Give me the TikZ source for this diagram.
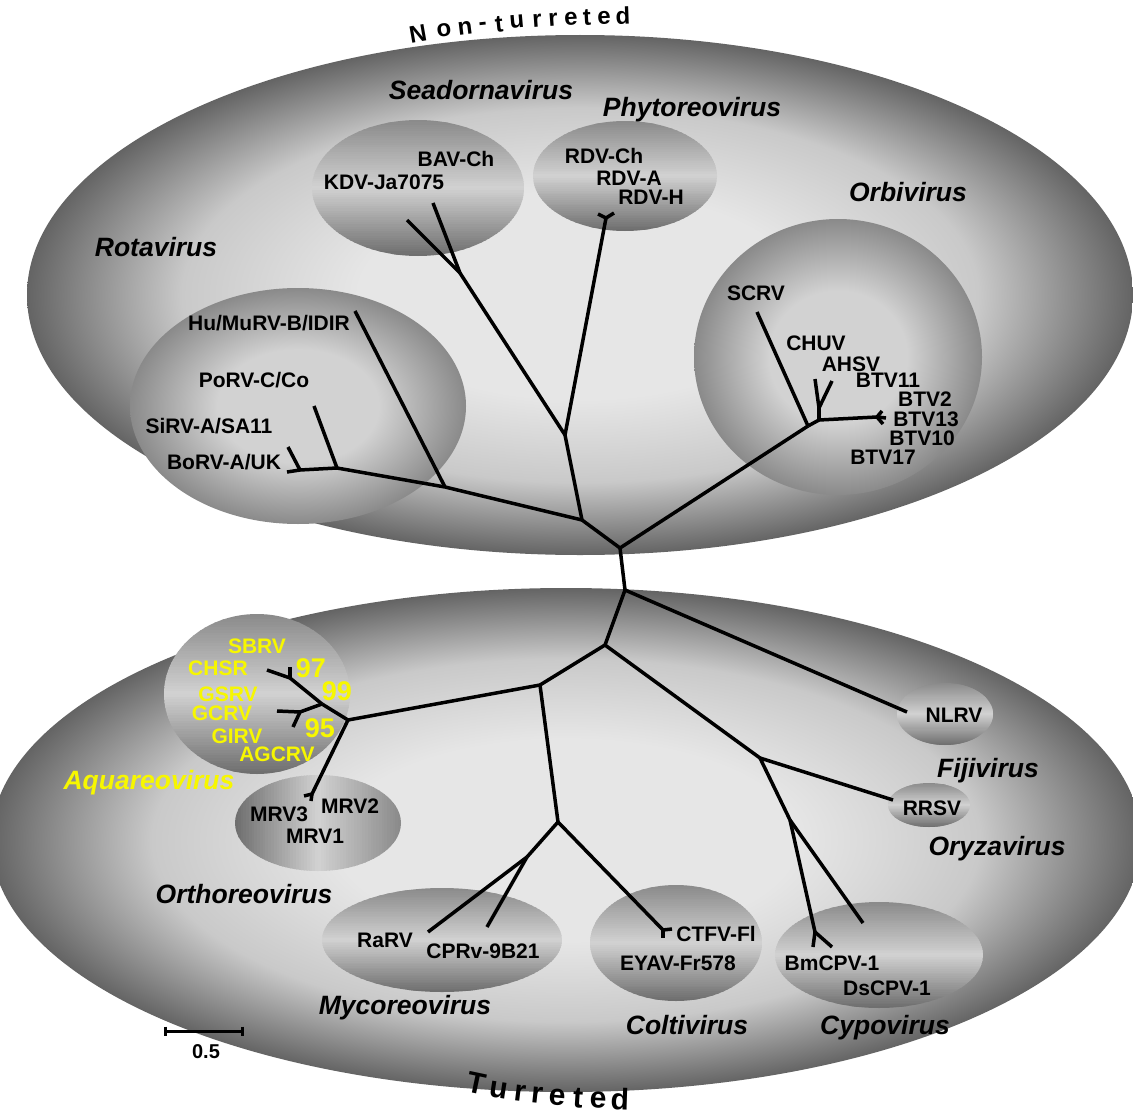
\documentclass[tikz,border=0pt]{standalone}
\usepackage{fontspec}
\setmainfont{Liberation Sans}
\definecolor{aqy}{HTML}{F7F700}
\definecolor{bgc}{HTML}{E6E6E6}
\definecolor{bgm}{HTML}{C9C9C9}
\definecolor{bge}{HTML}{646464}
\definecolor{sa}{HTML}{8A8A8A}
\definecolor{sb}{HTML}{D2D2D2}
\definecolor{sc}{HTML}{6E6E6E}
\pgfdeclareradialshading{bigsh}{\pgfpoint{0bp}{0bp}}{color(0bp)=(bgc); color(10bp)=(bgc); color(18bp)=(bgm); color(25bp)=(bge); color(50bp)=(bge)}
\pgfdeclareradialshading{midsh}{\pgfpoint{0bp}{0bp}}{color(0bp)=(sb); color(12bp)=(sb); color(25bp)=(sa); color(50bp)=(sa)}
% ellipse with a horizontal light band (vertical gradient)
\newcommand\bandell[4]{%
  \begin{scope}
    \clip (#1,#2) ellipse [x radius=#3pt, y radius=#4pt];
    \foreach \k in {0,...,59}{%
      \pgfmathsetmacro\ya{#2-#4+2*#4*\k/60}%
      \pgfmathsetmacro\yb{#2-#4+2*#4*(\k+1)/60+0.8}%
      \pgfmathtruncatemacro\pp{\k<30 ? (\k+0.5)/30*100 : (60-\k-0.5)/30*100}%
      \ifnum\k<30 \def\cc{sb!\pp!sa}\else\def\cc{sb!\pp!sc}\fi
      \fill[fill=\cc] (#1-#3-1,\ya) rectangle (#1+#3+1,\yb);
    }
  \end{scope}}
% ellipse with a vertical light band (horizontal gradient)
\newcommand\bandellh[4]{%
  \begin{scope}
    \clip (#1,#2) ellipse [x radius=#3pt, y radius=#4pt];
    \foreach \k in {0,...,59}{%
      \pgfmathsetmacro\xa{#1-#3+2*#3*\k/60}%
      \pgfmathsetmacro\xb{#1-#3+2*#3*(\k+1)/60+0.8}%
      \pgfmathtruncatemacro\pp{\k<30 ? (\k+0.5)/30*100 : (60-\k-0.5)/30*100}%
      \ifnum\k<30 \def\cc{sb!\pp!sc}\else\def\cc{sb!\pp!sa}\fi
      \fill[fill=\cc] (\xa,#2-#4-1) rectangle (\xb,#2+#4+1);
    }
  \end{scope}}
\begin{document}
\begin{tikzpicture}[x=1pt,y=-1pt,
  br/.style={line width=3.5pt, line join=round},
  lab/.style={font=\bfseries\fontsize{21}{21}\selectfont, inner sep=0pt, text height=15pt, text depth=0pt},
  gen/.style={font=\bfseries\itshape\fontsize{26.5}{26.5}\selectfont, inner sep=0pt, text height=19pt, text depth=0pt},
  boot/.style={font=\bfseries\fontsize{27}{27}\selectfont, inner sep=0pt, text height=19.3pt, text depth=0pt, text=aqy},
  arc1/.style={font=\bfseries\fontsize{24}{24}\selectfont, inner sep=0pt},
  arc2/.style={font=\bfseries\fontsize{30}{30}\selectfont, inner sep=0pt}
]
\fill[white] (0,0) rectangle (1133,1116);
\useasboundingbox (0,0) rectangle (1133,1116);

% big ellipses
\path[shading=bigsh] (580,295) ellipse [x radius=553pt, y radius=260pt];
\path[shading=bigsh] (566,840) ellipse [x radius=575pt, y radius=252pt];

% inner ellipses
\bandell{418}{188}{106}{68}
\bandell{625}{176}{92}{55}
\path[shading=midsh] (838,357) ellipse [x radius=144pt, y radius=138pt];
\path[shading=midsh] (298,406) ellipse [x radius=168pt, y radius=118pt];
\bandell{257}{694}{93}{80}
\bandellh{318}{823}{83}{48}
\bandell{442}{940}{120}{52}
\bandell{676}{943}{86}{58}
\bandell{879}{955}{104}{53}
\bandell{945}{714}{48}{31}
\bandell{929}{805}{41}{22}

% tree coordinates
\coordinate (R0) at (620,548);
\coordinate (R1) at (625,590);
\coordinate (T1) at (582,520);
\coordinate (T2) at (565,435);
\coordinate (S0) at (460,273);
\coordinate (S1) at (407,220);
\coordinate (S2) at (433,203);
\coordinate (P0) at (606,218);
\coordinate (P1) at (598,214);
\coordinate (P2) at (614,213);
\coordinate (Ro0) at (445,487);
\coordinate (Ro1) at (355,311);
\coordinate (Ro2) at (337,468);
\coordinate (Ro3) at (314,406);
\coordinate (Ro4) at (300,470);
\coordinate (Ro5) at (288,447);
\coordinate (Ro6) at (287,472);
\coordinate (O0) at (808,426);
\coordinate (O1) at (757,312);
\coordinate (O2) at (819,420);
\coordinate (O3) at (819,408);
\coordinate (O4) at (815,379);
\coordinate (O5) at (832,381);
\coordinate (O6) at (877,417);
\coordinate (O7) at (882,411);
\coordinate (O8) at (886,418);
\coordinate (O9) at (883,424);
\coordinate (N1) at (907,712);
\coordinate (B2) at (605,645);
\coordinate (B3) at (540,685);
\coordinate (B4) at (760,758);
\coordinate (RRt) at (893,800);
\coordinate (C0) at (790,820);
\coordinate (C1) at (815,932);
\coordinate (C1a) at (813,947);
\coordinate (C1b) at (832,947);
\coordinate (C2) at (863,923);
\coordinate (A0) at (348,720);
\coordinate (A1) at (322,704);
\coordinate (A2) at (290,678);
\coordinate (A2a) at (267,670);
\coordinate (A2b) at (290,667);
\coordinate (A3) at (300,712);
\coordinate (A3a) at (277,711);
\coordinate (A3b) at (293,727);
\coordinate (M0) at (312,794);
\coordinate (M0a) at (304,796);
\coordinate (M0b) at (311,801);
\coordinate (B5) at (558,822);
\coordinate (My0) at (527,857);
\coordinate (My1) at (428,932);
\coordinate (My2) at (487,927);
\coordinate (Co0) at (663,930);
\coordinate (Co1) at (672,929);
\coordinate (Co2) at (663,938);

% tree edges
\draw[br] (R0) -- (R1);
\draw[br] (R0) -- (T1);
\draw[br] (R0) -- (O0);
\draw[br] (T1) -- (T2);
\draw[br] (T1) -- (Ro0);
\draw[br] (T2) -- (S0);
\draw[br] (S0) -- (S1);
\draw[br] (S0) -- (S2);
\draw[br] (T2) -- (P0);
\draw[br] (P0) -- (P1);
\draw[br] (P0) -- (P2);
\draw[br] (Ro0) -- (Ro1);
\draw[br] (Ro0) -- (Ro2);
\draw[br] (Ro2) -- (Ro3);
\draw[br] (Ro2) -- (Ro4);
\draw[br] (Ro4) -- (Ro5);
\draw[br] (Ro4) -- (Ro6);
\draw[br] (O0) -- (O1);
\draw[br] (O0) -- (O2);
\draw[br] (O2) -- (O3);
\draw[br] (O3) -- (O4);
\draw[br] (O3) -- (O5);
\draw[br] (O2) -- (O6);
\draw[br] (O6) -- (O7);
\draw[br] (O6) -- (O8);
\draw[br] (O6) -- (O9);
\draw[br] (R1) -- (N1);
\draw[br] (R1) -- (B2);
\draw[br] (B2) -- (B3);
\draw[br] (B2) -- (B4);
\draw[br] (B4) -- (RRt);
\draw[br] (B4) -- (C0);
\draw[br] (C0) -- (C1);
\draw[br] (C1) -- (C1a);
\draw[br] (C1) -- (C1b);
\draw[br] (C0) -- (C2);
\draw[br] (B3) -- (A0);
\draw[br] (B3) -- (B5);
\draw[br] (A0) -- (A1);
\draw[br] (A1) -- (A2);
\draw[br] (A2) -- (A2a);
\draw[br] (A2) -- (A2b);
\draw[br] (A1) -- (A3);
\draw[br] (A3) -- (A3a);
\draw[br] (A3) -- (A3b);
\draw[br] (A0) -- (M0);
\draw[br] (M0) -- (M0a);
\draw[br] (M0) -- (M0b);
\draw[br] (B5) -- (My0);
\draw[br] (My0) -- (My1);
\draw[br] (My0) -- (My2);
\draw[br] (B5) -- (Co0);
\draw[br] (Co0) -- (Co1);
\draw[br] (Co0) -- (Co2);

% strain labels
\node[lab] (lBAV) at (456,159) {BAV-Ch};
\node[lab] (lKDV) at (384,182) {KDV-Ja7075};
\node[lab] (lRDVCh) at (604,156) {RDV-Ch};
\node[lab] (lRDVA) at (629,178) {RDV-A};
\node[lab] (lRDVH) at (651,197) {RDV-H};
\node[lab] (lSCRV) at (756,293) {SCRV};
\node[lab] (lCHUV) at (816,343) {CHUV};
\node[lab] (lAHSV) at (851,364) {AHSV};
\node[lab] (lBTV11) at (888,380) {BTV11};
\node[lab] (lBTV2) at (925,399) {BTV2};
\node[lab] (lBTV13) at (926,419) {BTV13};
\node[lab] (lBTV10) at (922,438) {BTV10};
\node[lab] (lBTV17) at (883,457) {BTV17};
\node[lab] (lHu) at (269,323) {Hu/MuRV-B/IDIR};
\node[lab] (lPoRV) at (254,380) {PoRV-C/Co};
\node[lab] (lSiRV) at (209,426) {SiRV-A/SA11};
\node[lab] (lBoRV) at (224,462) {BoRV-A/UK};
\node[lab,text=aqy] (lSBRV) at (257,646) {SBRV};
\node[lab,text=aqy] (lCHSR) at (218,668) {CHSR};
\node[lab,text=aqy] (lGSRV) at (228,694) {GSRV};
\node[lab,text=aqy] (lGCRV) at (222,713) {GCRV};
\node[lab,text=aqy] (lGIRV) at (237,736) {GIRV};
\node[lab,text=aqy] (lAGCRV) at (277,754) {AGCRV};
\node[boot] (b97) at (311,668) {97};
\node[boot] (b99) at (337,691) {99};
\node[boot] (b95) at (320,728) {95};
\node[lab] (lMRV3) at (279,814) {MRV3};
\node[lab] (lMRV2) at (350,806) {MRV2};
\node[lab] (lMRV1) at (315,836) {MRV1};
\node[lab] (lRaRV) at (385,940) {RaRV};
\node[lab] (lCPRv) at (483,951) {CPRv-9B21};
\node[lab] (lCTFV) at (716,934) {CTFV-Fl};
\node[lab] (lEYAV) at (678,963) {EYAV-Fr578};
\node[lab] (lBm) at (832,963) {BmCPV-1};
\node[lab] (lDs) at (887,988) {DsCPV-1};
\node[lab] (lNLRV) at (954,715) {NLRV};
\node[lab] (lRRSV) at (932,808) {RRSV};

% genus labels
\node[gen] (gSea) at (481,90) {Seadornavirus};
\node[gen] (gPhy) at (692,107) {Phytoreovirus};
\node[gen] (gOrb) at (908,192) {Orbivirus};
\node[gen] (gRot) at (156,247) {Rotavirus};
\node[gen,text=aqy] (gAqu) at (149,780) {Aquareovirus};
\node[gen] (gOrt) at (244,894) {Orthoreovirus};
\node[gen] (gMyc) at (405,1005) {Mycoreovirus};
\node[gen] (gCol) at (687,1025) {Coltivirus};
\node[gen] (gCyp) at (885,1025) {Cypovirus};
\node[gen] (gFij) at (988,768) {Fijivirus};
\node[gen] (gOry) at (997,846) {Oryzavirus};

% scale bar
\coordinate (sb1) at (165,1031);
\coordinate (sb2) at (242,1031);
\draw[line width=3pt] (sb1) -- (sb2);
\draw[line width=3pt] ([yshift=4.5pt]sb1) -- ([yshift=-4.5pt]sb1);
\draw[line width=3pt] ([yshift=4.5pt]sb2) -- ([yshift=-4.5pt]sb2);
\node[font=\bfseries\fontsize{20}{20}\selectfont, inner sep=0pt, text height=14pt, text depth=0pt] (sbl) at (206,1051) {0.5};

% curved titles
\foreach \ch/\px/\py/\r [count=\i] in {N/418/34/10, o/444/30/8, n/465/28/7, -/483/26/6, t/499/24/6, u/517/22/5, r/537/21/4, r/553/20/4, e/571/19/3, t/587/18/3, e/604/18/2, d/623/16/2}
  \node[arc1, rotate=\r] (nt\i) at (\px,\py) {\ch};
\foreach \ch/\px/\py/\r [count=\i] in {T/477/1083/-12, u/499/1090/-9, r/520/1093/-7, r/537/1095/-6, e/557/1097/-5, t/578/1098/-4, e/598/1100/-3, d/620/1099/-2}
  \node[arc2, rotate=\r] (tu\i) at (\px,\py) {\ch};
\end{tikzpicture}
\end{document}
